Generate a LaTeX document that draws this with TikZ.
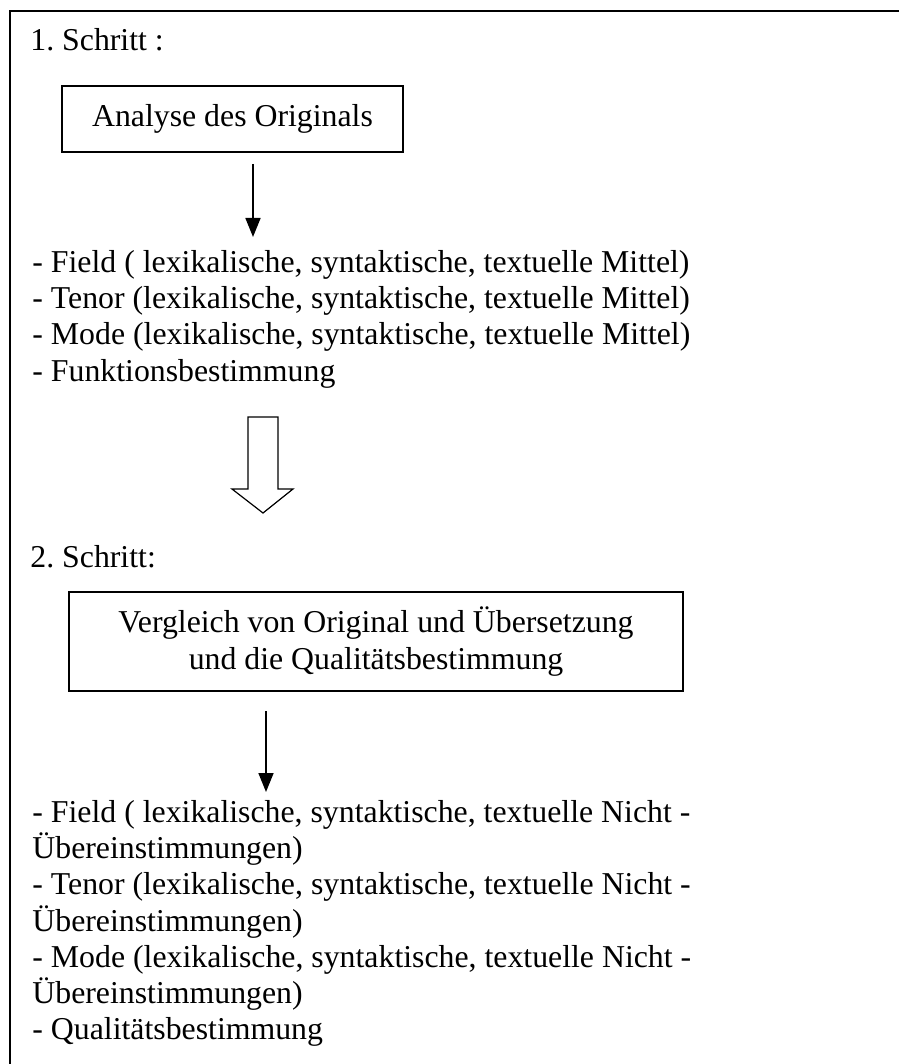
\documentclass[tikz,border=0pt]{standalone}
\usepackage{fontspec}
\setmainfont{Liberation Serif}
\frenchspacing
\usetikzlibrary{arrows.meta, positioning}

\begin{document}
\begin{tikzpicture}[x=0.5pt, y=-0.5pt,
        font=\fontsize{15.9pt}{18.1pt}\selectfont,
        box/.style={draw, rectangle, line width=0.8pt, align=center, inner sep=0pt},
        txt/.style={inner sep=0pt, align=left},
        arr/.style={-{Triangle[length=9.5pt, width=7.5pt]}, line width=0.8pt}]
        % Two steps of the analysis in a frame open to the right and below
        \useasboundingbox (0,0) rectangle (899,1064);
        \draw[line width=1pt] (899,11) -- (10,11) -- (10,1064);

        \node[txt, anchor=base west] (step1) at (30,51) {1. Schritt :};
        \node[box, minimum width=170.5pt, minimum height=33pt] (analyse) at (232.5,119) {Analyse des Originals};
        \node[txt, anchor=north west] (list1) at (32,250) {- Field ( lexikalische, syntaktische, textuelle Mittel)\\- Tenor (lexikalische, syntaktische, textuelle Mittel)\\- Mode (lexikalische, syntaktische, textuelle Mittel)\\- Funktionsbestimmung};
        \coordinate (arr1) at (253,164);
        \coordinate (arr1end) at (253,237);

        \coordinate (hollow) at (263,417);

        \node[txt, anchor=base west] (step2) at (30,567) {2. Schritt:};
        \node[box, minimum width=307pt, minimum height=49.5pt] (vergleich) at (376,641.5) {Vergleich von Original und Übersetzung\\und die Qualitätsbestimmung};
        \node[txt, anchor=north west] (list2) at (32,800) {- Field ( lexikalische, syntaktische, textuelle Nicht -\\Übereinstimmungen)\\- Tenor (lexikalische, syntaktische, textuelle Nicht -\\Übereinstimmungen)\\- Mode (lexikalische, syntaktische, textuelle Nicht -\\Übereinstimmungen)\\- Qualitätsbestimmung};
        \coordinate (arr2) at (266,711);
        \coordinate (arr2end) at (266,792);

        \draw[arr] (arr1) -- (arr1end);
        \draw[line width=0.6pt] (hollow) ++(-15,0) -- ++(30,0) -- ++(0,72) -- ++(15,0) -- ++(-30,24) -- ++(-31,-24) -- ++(16,0) -- cycle;
        \draw[arr] (arr2) -- (arr2end);
    \end{tikzpicture}
\end{document}
